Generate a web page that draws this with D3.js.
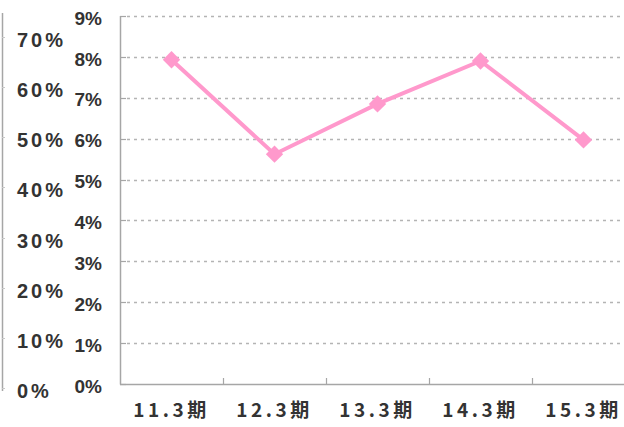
<!DOCTYPE html>
<html>
<head>
<meta charset="utf-8">
<script src="https://cdn.jsdelivr.net/npm/d3@7"></script>
<style>
  body { margin: 0; background: #fff; }
  svg { display: block; }
  text { font-weight: bold; fill: #333; }
</style>
</head>
<body>
<div id="chart"></div>
<script>
const periods = ['11.3期', '12.3期', '13.3期', '14.3期', '15.3期'];
const rates = [0.0793, 0.0562, 0.0685, 0.0790, 0.0597];
const rightTicks = [0, 0.01, 0.02, 0.03, 0.04, 0.05, 0.06, 0.07, 0.08, 0.09];
const leftTicks = [0, 0.1, 0.2, 0.3, 0.4, 0.5, 0.6, 0.7];

const width = 624;
const height = 427;

const svg = d3.select('#chart')
  .append('svg')
  .attr('width', width)
  .attr('height', height);

// main plot area (runs past the right edge like the original)
const x = d3.scaleBand()
  .domain(periods)
  .range([120, 635]);

const y = d3.scaleLinear()
  .domain([0, 0.09])
  .range([384, 16]);

// secondary axis on the far left
const y2 = d3.scaleLinear()
  .domain([0, 0.75])
  .range([391, 15]);

const gray = '#a6a6a6';

// dotted grid
svg.append('g')
  .selectAll('line')
  .data(rightTicks.slice(1))
  .join('line')
  .attr('x1', 127)
  .attr('x2', 624)
  .attr('y1', d => Math.round(y(d)) + 0.5)
  .attr('y2', d => Math.round(y(d)) + 0.5)
  .attr('stroke', '#b4b4b4')
  .attr('stroke-width', 1.5)
  .attr('stroke-dasharray', '3,4');

// y axis line + inner ticks
svg.append('line')
  .attr('x1', 120.5).attr('x2', 120.5)
  .attr('y1', y(0.09)).attr('y2', y(0) + 0.5)
  .attr('stroke', gray).attr('stroke-width', 1.5);

svg.append('g')
  .selectAll('line')
  .data(rightTicks)
  .join('line')
  .attr('x1', 120).attr('x2', 126)
  .attr('y1', d => Math.round(y(d)) + 0.5)
  .attr('y2', d => Math.round(y(d)) + 0.5)
  .attr('stroke', gray).attr('stroke-width', 1.2);

// x axis line + ticks
svg.append('line')
  .attr('x1', 120).attr('x2', 624)
  .attr('y1', 384.5).attr('y2', 384.5)
  .attr('stroke', gray).attr('stroke-width', 1.5);

svg.append('g')
  .selectAll('line')
  .data(periods.slice(1))
  .join('line')
  .attr('x1', d => Math.round(x(d)) + 0.5)
  .attr('x2', d => Math.round(x(d)) + 0.5)
  .attr('y1', 378).attr('y2', 384)
  .attr('stroke', gray).attr('stroke-width', 1.2);

// y labels
svg.append('g')
  .selectAll('text')
  .data(rightTicks)
  .join('text')
  .attr('x', 102)
  .attr('y', d => y(d) + 2)
  .attr('dy', '0.35em')
  .attr('text-anchor', 'end')
  .style('font-family', '"Liberation Sans Narrow", "Liberation Sans", sans-serif')
  .style('font-size', '19px')
  .text(d => d3.format('.0%')(d));

// x labels
svg.append('g')
  .selectAll('text')
  .data(periods)
  .join('text')
  .attr('x', d => x(d) + x.bandwidth() / 2)
  .attr('y', 410)
  .attr('dy', '0.35em')
  .attr('text-anchor', 'middle')
  .style('font-family', '"Liberation Sans Narrow", "Noto Sans CJK JP", sans-serif')
  .style('font-size', '19px')
  .style('letter-spacing', '3.5px')
  .text(d => d);

// left secondary axis
svg.append('line')
  .attr('x1', 2.5).attr('x2', 2.5)
  .attr('y1', 13).attr('y2', 391)
  .attr('stroke', gray).attr('stroke-width', 1.5);

svg.append('g')
  .selectAll('line')
  .data(leftTicks)
  .join('line')
  .attr('x1', 2).attr('x2', 5)
  .attr('y1', d => Math.round(y2(d)) - 2.5)
  .attr('y2', d => Math.round(y2(d)) - 2.5)
  .attr('stroke', '#c8c8c8').attr('stroke-width', 1);

svg.append('g')
  .selectAll('text')
  .data(leftTicks)
  .join('text')
  .attr('x', 17)
  .attr('y', d => y2(d))
  .attr('dy', '0.35em')
  .style('font-family', '"Liberation Sans Narrow", "Liberation Sans", sans-serif')
  .style('font-size', '20px')
  .style('letter-spacing', '3px')
  .text(d => d3.format('.0%')(d));

// series line
const line = d3.line()
  .x((d, i) => x(periods[i]) + x.bandwidth() / 2)
  .y(d => y(d));

svg.append('path')
  .datum(rates)
  .attr('d', line)
  .attr('fill', 'none')
  .attr('stroke', '#ff99cc')
  .attr('stroke-width', 4);

// diamond markers
const diamond = d3.symbol().type(d3.symbolSquare).size(150);

svg.append('g')
  .selectAll('path')
  .data(rates)
  .join('path')
  .attr('d', diamond)
  .attr('transform', (d, i) => `translate(${x(periods[i]) + x.bandwidth() / 2},${y(d)}) rotate(45)`)
  .attr('fill', '#ff99cc');
</script>
</body>
</html>
